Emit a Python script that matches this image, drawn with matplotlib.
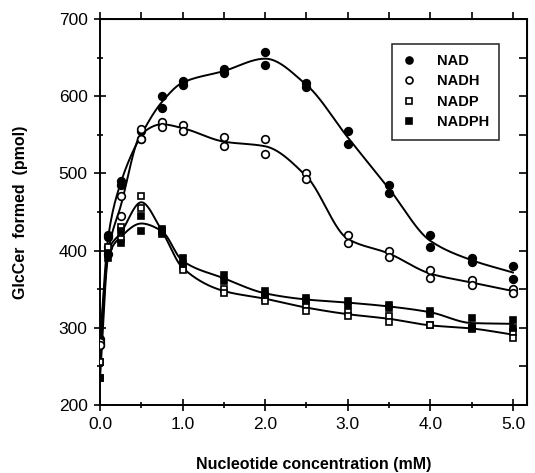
import matplotlib
matplotlib.use("Agg")
import matplotlib.pyplot as plt
from matplotlib.ticker import MultipleLocator, NullFormatter
import numpy as np

plt.rcParams['font.family'] = ['Liberation Sans', 'DejaVu Sans']

# concentrations (mM), two replicates per point
conc = [0.0, 0.1, 0.25, 0.5, 0.75, 1.0, 1.5, 2.0, 2.5, 3.0, 3.5, 4.0, 4.5, 5.0]

nad_a = [285, 420, 490, 545, 600, 620, 635, 657, 617, 555, 485, 420, 390, 380]
nad_b = [278, 417, 485, 555, 585, 615, 630, 640, 612, 538, 475, 405, 385, 363]

nadh_a = [282, 405, 470, 557, 567, 562, 547, 545, 500, 420, 400, 375, 362, 350]
nadh_b = [278, 395, 445, 545, 560, 555, 535, 525, 492, 410, 392, 365, 355, 345]

nadp_a = [255, 405, 430, 470, 425, 380, 350, 340, 330, 320, 315, 303, 300, 295]
nadp_b = [255, 395, 415, 455, 425, 375, 345, 335, 322, 315, 308, 303, 298, 287]

nadph_a = [235, 395, 425, 445, 428, 390, 368, 347, 338, 335, 330, 322, 312, 310]
nadph_b = [235, 390, 410, 425, 422, 383, 360, 342, 335, 330, 325, 318, 300, 300]

labels = ["NAD", "NADH", "NADP", "NADPH"]


def pchip(x, y, xs):
    # monotone cubic hermite curve through the mean points
    x = np.asarray(x, float)
    y = np.asarray(y, float)
    h = np.diff(x)
    d = np.diff(y) / h
    m = np.zeros_like(y)
    for k in range(1, len(x) - 1):
        if d[k - 1] * d[k] > 0:
            w1 = 2 * h[k] + h[k - 1]
            w2 = h[k] + 2 * h[k - 1]
            m[k] = (w1 + w2) / (w1 / d[k - 1] + w2 / d[k])
    m[0] = d[0]
    m[-1] = d[-1]
    out = np.empty_like(xs)
    for j, xv in enumerate(xs):
        k = min(np.searchsorted(x, xv, side='right') - 1, len(x) - 2)
        t = (xv - x[k]) / h[k]
        h00 = 2 * t**3 - 3 * t**2 + 1
        h10 = t**3 - 2 * t**2 + t
        h01 = -2 * t**3 + 3 * t**2
        h11 = t**3 - t**2
        out[j] = h00 * y[k] + h10 * h[k] * m[k] + h01 * y[k + 1] + h11 * h[k] * m[k + 1]
    return out


fig = plt.figure(figsize=(5.35, 4.73), dpi=100)
ax = fig.add_axes([0.187, 0.144, 0.798, 0.816])

series = [(nad_a, nad_b, 'o', 'black'),
          (nadh_a, nadh_b, 'o', 'white'),
          (nadp_a, nadp_b, 's', 'white'),
          (nadph_a, nadph_b, 's', 'black')]

xs = np.linspace(0, 5, 400)
handles = []
for (a, b, mk, fc), lab in zip(series, labels):
    mean = (np.array(a) + np.array(b)) / 2
    ax.plot(xs, pchip(conc, mean, xs), color='black', lw=1.4, zorder=2)
    ms = 5.5 if mk == 'o' else 5.0
    ax.plot(conc, a, mk, ms=ms, mfc=fc, mec='black', mew=1.2, ls='none', zorder=3)
    ax.plot(conc, b, mk, ms=ms, mfc=fc, mec='black', mew=1.2, ls='none', zorder=3)
    h, = ax.plot([], [], mk, ms=5 if mk == 'o' else 4.5, mfc=fc, mec='black', mew=1.2, ls='none')
    handles.append(h)

ax.set_xlim(0, 5.17)
ax.set_ylim(200, 700)
ax.xaxis.set_major_locator(MultipleLocator(1.0))
ax.xaxis.set_minor_locator(MultipleLocator(0.5))
ax.yaxis.set_major_locator(MultipleLocator(100))
ax.yaxis.set_minor_locator(MultipleLocator(50))
ax.set_xticks([0, 1, 2, 3, 4, 5])
ax.set_xticklabels(["0.0", "1.0", "2.0", "3.0", "4.0", "5.0"])

ax.tick_params(which='both', direction='inout', labelsize=12.5, width=1.2, color='black', pad=5)
ax.tick_params(which='major', length=8)
ax.tick_params(which='minor', length=5)
for s in ax.spines.values():
    s.set_linewidth(1.4)

# top ticks point outward, right ticks point inward
top = ax.secondary_xaxis('top')
top.xaxis.set_major_locator(MultipleLocator(0.5))
top.xaxis.set_major_formatter(NullFormatter())
top.tick_params(direction='out', length=5, width=1.2)
right = ax.secondary_yaxis('right')
right.yaxis.set_major_locator(MultipleLocator(50))
right.yaxis.set_major_formatter(NullFormatter())
right.tick_params(direction='in', length=6, width=1.2)

ax.set_xlabel("Nucleotide concentration (mM)", fontsize=11.5, fontweight='bold', labelpad=18)
ax.set_ylabel("GlcCer  formed  (pmol)", fontsize=11.5, fontweight='bold', labelpad=22)

leg = ax.legend(handles, labels, loc='upper right', bbox_to_anchor=(0.952, 0.955),
                frameon=True, fancybox=False, edgecolor='black', handletextpad=1.4,
                borderpad=0.7, labelspacing=0.45, handlelength=1.0,
                prop={'weight': 'bold', 'size': 10.5})
leg.get_frame().set_linewidth(1.2)

fig.savefig("out.png", dpi=100, facecolor='white')
